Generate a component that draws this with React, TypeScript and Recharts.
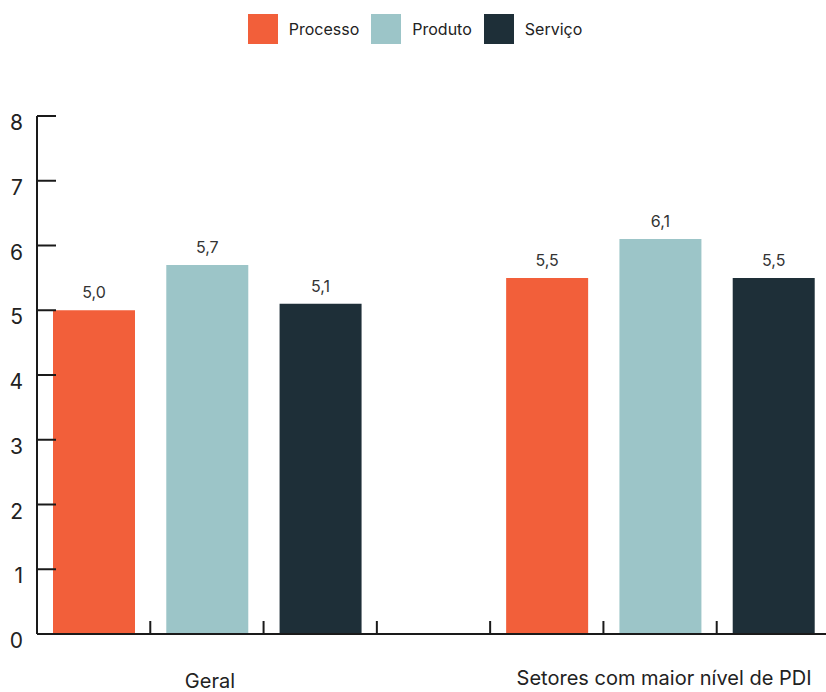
import { BarChart, Bar, XAxis, YAxis, Legend, LabelList } from "recharts";

// series values
const groups = ["Geral", "Setores com maior nível de PDI"];
const processo = [5.0, 5.5];
const produto = [5.7, 6.1];
const servico = [5.1, 5.5];
const yTicks = [0, 1, 2, 3, 4, 5, 6, 7, 8];

const COLORS = {
    processo: "#F25F3A",
    produto: "#9CC5C8",
    servico: "#1E2F38",
};

const SERIES = [
    { key: "processo", name: "Processo", color: COLORS.processo },
    { key: "produto", name: "Produto", color: COLORS.produto },
    { key: "servico", name: "Serviço", color: COLORS.servico },
];

// one slot per bar, with an empty slot between the two groups
type Row = { slot: string; label: string; processo?: number; produto?: number; servico?: number };
const rows: Row[] = [];
groups.forEach((g, gi) => {
    if (gi > 0) rows.push({ slot: `gap-${gi}`, label: "" });
    rows.push({ slot: `${gi}-a`, label: "", processo: processo[gi] });
    rows.push({ slot: `${gi}-b`, label: g, produto: produto[gi] });
    rows.push({ slot: `${gi}-c`, label: "", servico: servico[gi] });
});

const CHART_W = 830;
const CHART_H = 692;
const Y_AXIS_W = 37;
const BAND = (CHART_W - Y_AXIS_W) / rows.length;
const FONT = "Inter, 'DejaVu Sans', sans-serif";
const INK = "#1a1a1a";

const fmt = (v: unknown) =>
    typeof v === "number" ? v.toFixed(1).replace(".", ",") : "";

const XTick = (props: any) => {
    const { x, y, index } = props;
    const row = rows[index];
    // Geral sits a bit lower than the second label in the original
    const dy = index === 1 ? 54 : 51;
    const dx = index === 1 ? 3 : 4;
    return (
        <g>
            {index < rows.length - 1 && (
                <line
                    x1={x + BAND / 2}
                    x2={x + BAND / 2}
                    y1={y}
                    y2={y - 13}
                    stroke={INK}
                    strokeWidth={2}
                />
            )}
            {row && row.label && (
                <text
                    x={x + dx}
                    y={y + dy}
                    textAnchor="middle"
                    fontFamily={FONT}
                    fontSize={20}
                    fill="#222"
                >
                    {row.label}
                </text>
            )}
        </g>
    );
};

const YTick = (props: any) => {
    const { x, y, payload } = props;
    return (
        <g>
            <line x1={x} x2={x + 19} y1={y} y2={y} stroke={INK} strokeWidth={2} />
            <text
                x={x - 14}
                y={y + 14}
                textAnchor="end"
                fontFamily={FONT}
                fontSize={21}
                fill="#222"
            >
                {payload.value}
            </text>
        </g>
    );
};

const LegendContent = () => (
    <div
        style={{
            display: "flex",
            justifyContent: "center",
            alignItems: "center",
            fontFamily: FONT,
            fontSize: 16,
            color: "#222",
            height: 30,
        }}
    >
        {SERIES.map((s, i) => (
            <div key={s.key} style={{ display: "flex", alignItems: "center" }}>
                <div style={{ width: 30, height: 30, background: s.color, marginRight: 11 }} />
                <span style={{ marginRight: i < SERIES.length - 1 ? 12 : 0 }}>{s.name}</span>
            </div>
        ))}
    </div>
);

export default function App() {
    return (
        <div
            style={{
                position: "absolute",
                left: 0,
                top: 0,
                width: 826,
                height: 692,
                overflow: "hidden",
                background: "#fff",
            }}
        >
            <BarChart
                width={CHART_W}
                height={CHART_H}
                data={rows}
                margin={{ top: 86, right: 0, left: 0, bottom: 0 }}
            >
                <XAxis
                    dataKey="slot"
                    height={58}
                    interval={0}
                    tickLine={false}
                    tickSize={0}
                    tickMargin={0}
                    axisLine={{ stroke: INK, strokeWidth: 2 }}
                    tick={<XTick />}
                />
                <YAxis
                    width={Y_AXIS_W}
                    domain={[0, 8]}
                    ticks={yTicks}
                    interval={0}
                    tickLine={false}
                    tickSize={0}
                    tickMargin={0}
                    axisLine={{ stroke: INK, strokeWidth: 2 }}
                    tick={<YTick />}
                />
                <Legend
                    verticalAlign="top"
                    content={<LegendContent />}
                    wrapperStyle={{ top: 14, left: 0, width: CHART_W }}
                />
                {SERIES.map((s) => (
                    <Bar
                        key={s.key}
                        dataKey={s.key}
                        name={s.name}
                        stackId="a"
                        fill={s.color}
                        barSize={82}
                        isAnimationActive={false}
                    >
                        <LabelList
                            dataKey={s.key}
                            position="top"
                            offset={12}
                            formatter={fmt}
                            style={{ fontFamily: FONT, fontSize: 16, fill: "#333" }}
                        />
                    </Bar>
                ))}
            </BarChart>
        </div>
    );
}
